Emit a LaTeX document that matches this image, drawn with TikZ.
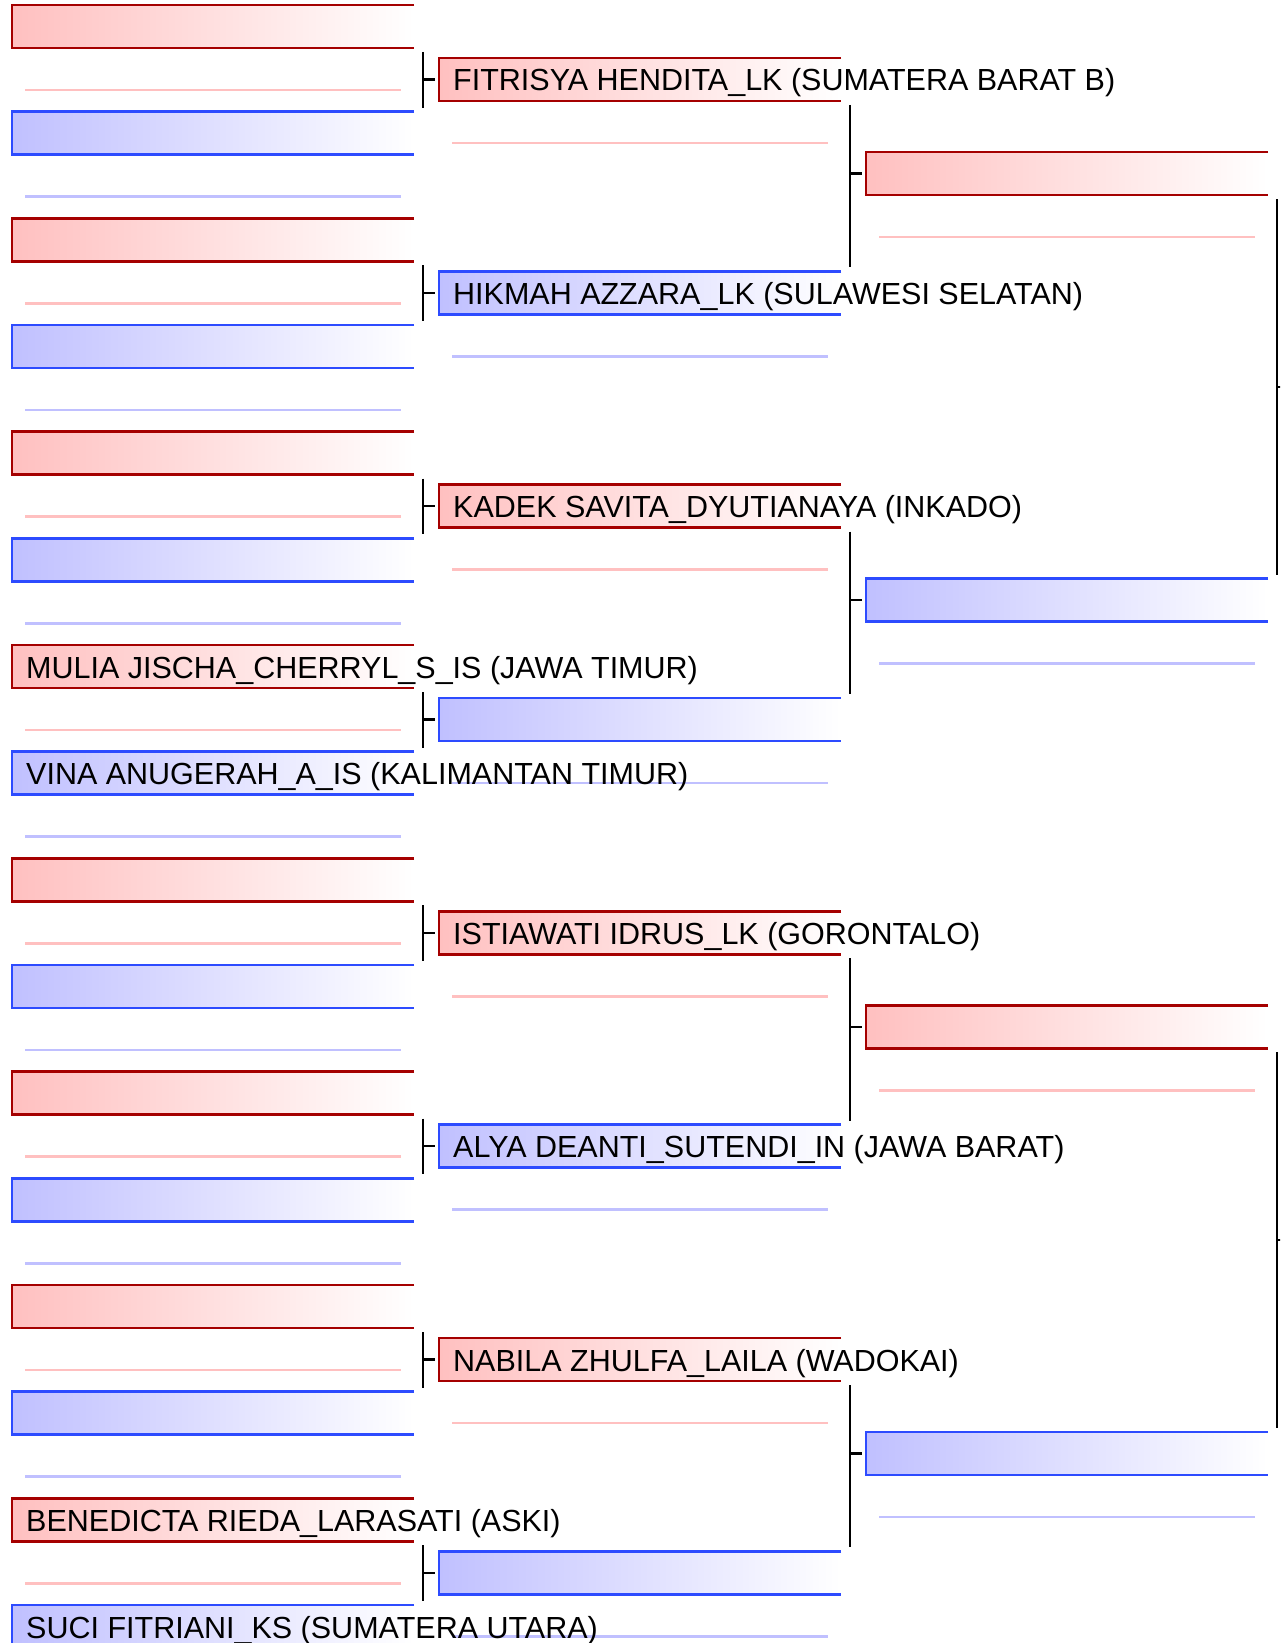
\documentclass[tikz,border=0pt]{standalone}
\usepackage{fontspec}
\setmainfont{Liberation Sans}

\definecolor{rededge}{RGB}{165,0,0}
\definecolor{blueedge}{RGB}{45,75,255}
\definecolor{redtint}{RGB}{255,192,192}
\definecolor{bluetint}{RGB}{192,192,255}

\tikzset{
  box/.style={anchor=north west, minimum width=402pt, minimum height=43pt, inner sep=0pt, outer sep=0pt},
  box0/.style={box, left color=redtint, right color=white},
  box1/.style={box, left color=bluetint, right color=white},
  edge0/.style={rededge, line width=2.5pt},
  edge1/.style={blueedge, line width=2.5pt},
  rule0/.style={redtint, line width=2.5pt},
  rule1/.style={bluetint, line width=2.5pt},
  bracket/.style={black, line width=2.5pt},
  playername/.style={anchor=base west, inner sep=0pt, font=\fontsize{30.5}{36}\selectfont},
}

\begin{document}
\begin{tikzpicture}[x=1pt,y=-1pt]
  \useasboundingbox (0,0) rectangle (1280,1643);
  \clip (0,0) rectangle (1280,1643);

  % Boxes and rules, round by round
  \foreach \r/\x/\y/\d/\n in {1/12/5/106.667/15, 2/439/58/213.333/7, 3/866/152/426.667/3}{
    \foreach \k in {0,...,\n}{
      \pgfmathtruncatemacro\side{mod(\k,2)}
      \node[box\side] (r\r-\k) at (\x,{\y+\d*\k}) {};
      \draw[edge\side] (r\r-\k.north east) -- (r\r-\k.north west) -- (r\r-\k.south west) -- (r\r-\k.south east);
      \draw[rule\side] ([xshift=13pt,yshift=-42pt]r\r-\k.south west) -- ([xshift=-13pt,yshift=-42pt]r\r-\k.south east);
    }
  }

  % Brackets
  \foreach \r/\n in {1/7, 2/3}{
    \foreach \k in {0,...,\n}{
      \pgfmathtruncatemacro\a{2*\k}
      \pgfmathtruncatemacro\b{2*\k+1}
      \pgfmathtruncatemacro\s{\r+1}
      \draw[bracket] ([xshift=9pt,yshift=-4pt]r\r-\a.south east) -- ([xshift=9pt,yshift=4pt]r\r-\b.north east);
      \draw[bracket] ([xshift=-16pt]r\s-\k.west) -- ([xshift=-4pt]r\s-\k.west);
    }
  }

  % Final round, off the page
  \coordinate (r4-0) at (1293,387);
  \coordinate (r4-1) at (1293,1240);
  \draw[bracket] ([xshift=9pt,yshift=-4pt]r3-0.south east) -- ([xshift=9pt,yshift=4pt]r3-1.north east);
  \draw[bracket] ([xshift=9pt,yshift=-4pt]r3-2.south east) -- ([xshift=9pt,yshift=4pt]r3-3.north east);
  \draw[bracket] ([xshift=-16pt]r4-0) -- ([xshift=-4pt]r4-0);
  \draw[bracket] ([xshift=-16pt]r4-1) -- ([xshift=-4pt]r4-1);

  % Names
  \node[playername] (p1-6) at ([xshift=14pt,yshift=-33pt]r1-6.north west) {MULIA JISCHA\_CHERRYL\_S\_IS (JAWA TIMUR)};
  \node[playername] (p1-7) at ([xshift=14pt,yshift=-33pt]r1-7.north west) {VINA ANUGERAH\_A\_IS (KALIMANTAN TIMUR)};
  \node[playername] (p1-14) at ([xshift=14pt,yshift=-33pt]r1-14.north west) {BENEDICTA RIEDA\_LARASATI (ASKI)};
  \node[playername] (p1-15) at ([xshift=14pt,yshift=-33pt]r1-15.north west) {SUCI FITRIANI\_KS (SUMATERA UTARA)};
  \node[playername] (p2-0) at ([xshift=14pt,yshift=-33pt]r2-0.north west) {FITRISYA HENDITA\_LK (SUMATERA BARAT B)};
  \node[playername] (p2-1) at ([xshift=14pt,yshift=-33pt]r2-1.north west) {HIKMAH AZZARA\_LK (SULAWESI SELATAN)};
  \node[playername] (p2-2) at ([xshift=14pt,yshift=-33pt]r2-2.north west) {KADEK SAVITA\_DYUTIANAYA (INKADO)};
  \node[playername] (p2-4) at ([xshift=14pt,yshift=-33pt]r2-4.north west) {ISTIAWATI IDRUS\_LK (GORONTALO)};
  \node[playername] (p2-5) at ([xshift=14pt,yshift=-33pt]r2-5.north west) {ALYA DEANTI\_SUTENDI\_IN (JAWA BARAT)};
  \node[playername] (p2-6) at ([xshift=14pt,yshift=-33pt]r2-6.north west) {NABILA ZHULFA\_LAILA (WADOKAI)};

\end{tikzpicture}
\end{document}
